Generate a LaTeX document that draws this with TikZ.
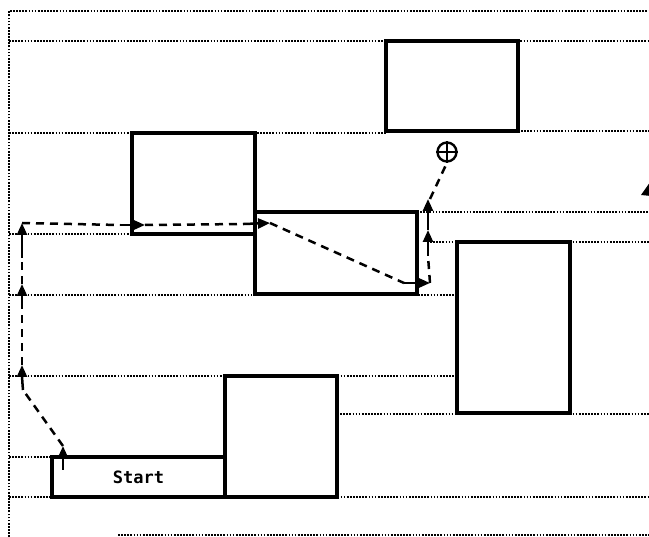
\documentclass[tikz,border=0pt]{standalone}
\usepackage{fontspec}
\newfontfamily\startfont{DejaVu Sans Mono}
\usetikzlibrary{arrows.meta}
\begin{document}
\begin{tikzpicture}[x=1pt,y=-1pt,
  grid/.style={line width=1.6pt,dash pattern=on 1.7pt off 1.4pt},
  box/.style={draw,line width=3.4pt,fill=white,inner sep=0pt,outer sep=0pt,anchor=north west},
  dsh/.style={line width=2.5pt,dash pattern=on 8pt off 6pt},
  arr/.style={line width=2.5pt,-{Triangle[length=12pt,width=10pt]}}]
\useasboundingbox (0,0) rectangle (649,537);
\clip (0,0) rectangle (649,537);
% grid lines
\draw[grid] (9,537) -- (9,11) -- (649,11);
\draw[grid] (9,41) -- (649,41);
\draw[grid] (9,133) -- (386,133);
\draw[grid] (518,131) -- (649,131);
\draw[grid] (417,212) -- (649,212);
\draw[grid] (9,234) -- (132,234);
\draw[grid] (430,242) -- (649,242);
\draw[grid] (9,295) -- (457,295);
\draw[grid] (9,376) -- (457,376);
\draw[grid] (337,414) -- (649,414);
\draw[grid] (9,457) -- (52,457);
\draw[grid] (9,497) -- (649,497);
\draw[grid] (118,535) -- (649,535);
% boxes
\node[box,minimum width=132pt,minimum height=90pt] (A) at (386,41) {};
\node[box,minimum width=123pt,minimum height=101pt] (B) at (132,133) {};
\node[box,minimum width=162pt,minimum height=82pt] (C) at (255,212) {};
\node[box,minimum width=113pt,minimum height=171pt] (D) at (457,242) {};
\node[box,minimum width=112pt,minimum height=121pt] (E) at (225,376) {};
\node[box,minimum width=173pt,minimum height=40pt] (S) at (52,457) {};
\node[font=\startfont\bfseries\fontsize{17}{17}\selectfont] (St) at (S.center) {Start};
% plus symbol
\node[circle,draw,line width=2.4pt,minimum size=19pt,inner sep=0pt] (P) at (447,152) {};
\draw[line width=2.4pt] (P.north) -- (P.south) (P.east) -- (P.west);
% path coordinates
\coordinate (s0) at (63,470);
\coordinate (s1) at (63,446);
\coordinate (l0) at (23,390);
\coordinate (l1) at (22,365);
\coordinate (l2) at (22,307);
\coordinate (l3) at (22,284);
\coordinate (l4) at (22,258);
\coordinate (l5) at (22,223);
\coordinate (h0) at (120,225);
\coordinate (h1) at (145,225);
\coordinate (h2) at (244,224);
\coordinate (h3) at (270,223);
\coordinate (g0) at (404,283);
\coordinate (g1) at (430,283);
\coordinate (v0) at (428,256);
\coordinate (v1) at (428,230);
\coordinate (v2) at (428,199);
% connectors
\draw[arr] (s0) -- (s1);
\draw[dsh] (s1) -- (l0);
\draw[arr] (l0) to[out=95,in=-90] (l1);
\draw[dsh] (l1) -- (l2);
\draw[arr] (l2) -- (l3);
\draw[dsh] (l3) -- (l4);
\draw[arr] (l4) -- (l5);
\draw[dsh] (l5) -- (h0);
\draw[arr] (h0) -- (h1);
\draw[dsh] (h1) -- (h2);
\draw[arr] (h2) -- (h3);
\draw[dsh] (h3) -- (g0);
\draw[arr] (g0) -- (g1);
\draw[dsh] (g1) -- (v0);
\draw[arr] (v0) -- (v1);
\draw[arr] (v1) -- (v2);
\draw[dsh] ([xshift=2pt]v2) -- (P.south);
% partial arrowhead at the right edge
\fill (641,195) -- (653,178) -- (651,196) -- cycle;
\end{tikzpicture}
\end{document}
